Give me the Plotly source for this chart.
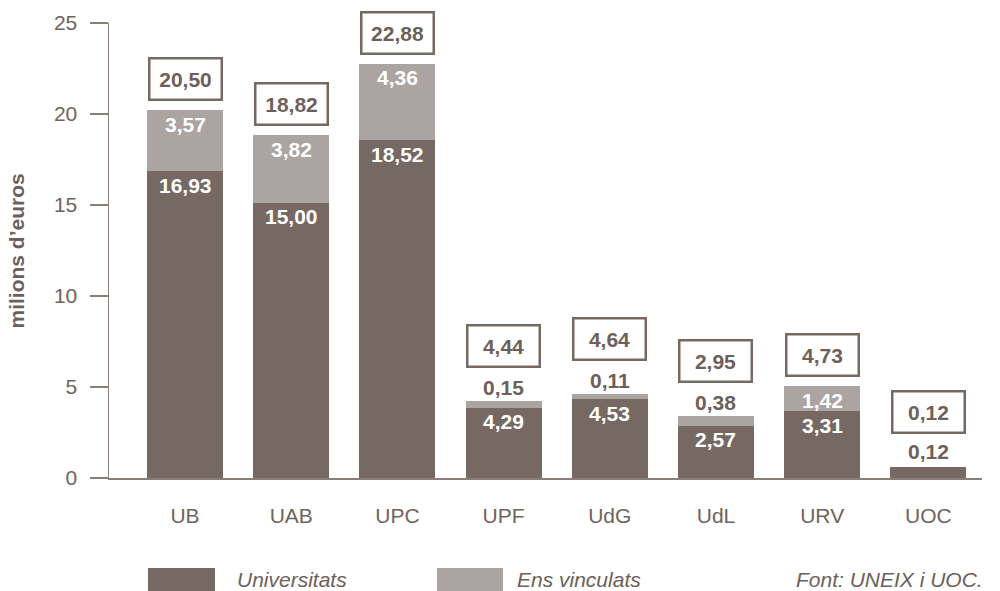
import plotly.graph_objects as go

# ---- data ----
categories = ["UB", "UAB", "UPC", "UPF", "UdG", "UdL", "URV", "UOC"]
# bar heights as drawn in the reference (milions d'euros)
universitats = [16.86, 15.12, 18.56, 3.86, 4.34, 2.87, 3.68, 0.62]
ens_vinculats = [3.35, 3.72, 4.21, 0.37, 0.27, 0.53, 1.37, 0.0]
# printed labels
univ_labels = ["16,93", "15,00", "18,52", "4,29", "4,53", "2,57", "3,31", "0,12"]
ens_labels = ["3,57", "3,82", "4,36", "0,15", "0,11", "0,38", "1,42", ""]
total_labels = ["20,50", "18,82", "22,88", "4,44", "4,64", "2,95", "4,73", "0,12"]
y_ticks = [0, 5, 10, 15, 20, 25]

DARK = "#766862"
LIGHT = "#aca4a1"
TXT = "#6d605a"
AXIS = "#8a7e79"
FONT = "Liberation Sans, Arial, Helvetica, sans-serif"

fig = go.Figure()
fig.add_trace(go.Bar(x=categories, y=universitats, name="Universitats",
                     marker=dict(color=DARK, line=dict(width=0)), hoverinfo="skip"))
fig.add_trace(go.Bar(x=categories, y=ens_vinculats, name="Ens vinculats",
                     marker=dict(color=LIGHT, line=dict(width=0)), hoverinfo="skip"))

PX_PER_UNIT = 455.0 / 25.0
annotations = []
for i, cat in enumerate(categories):
    u = universitats[i]
    e = ens_vinculats[i]
    tot = u + e
    outside = False
    # universitats label
    if u * PX_PER_UNIT >= 24:
        annotations.append(dict(x=cat, y=u, text=univ_labels[i], showarrow=False,
                                yanchor="middle", yshift=-14,
                                font=dict(size=21, color="white", family=FONT, weight="bold")))
    else:
        outside = True
        annotations.append(dict(x=cat, y=u, text=univ_labels[i], showarrow=False,
                                yanchor="middle", yshift=15,
                                font=dict(size=21, color=TXT, family=FONT, weight="bold")))
    # ens vinculats label
    if ens_labels[i]:
        if e * PX_PER_UNIT >= 20:
            annotations.append(dict(x=cat, y=tot, text=ens_labels[i], showarrow=False,
                                    yanchor="middle", yshift=-14,
                                    font=dict(size=21, color="white", family=FONT, weight="bold")))
        else:
            outside = True
            annotations.append(dict(x=cat, y=tot, text=ens_labels[i], showarrow=False,
                                    yanchor="middle", yshift=14,
                                    font=dict(size=21, color=TXT, family=FONT, weight="bold")))
    # total box
    annotations.append(dict(x=cat, y=tot, text=total_labels[i], showarrow=False,
                            yanchor="bottom", yshift=(33 if outside else 9),
                            width=68, height=37, borderpad=1, borderwidth=2.5,
                            bordercolor=DARK, bgcolor="white",
                            font=dict(size=21, color=TXT, family=FONT, weight="bold")))

# y-axis title
annotations.append(dict(xref="paper", yref="paper", x=-0.1054, y=0.5, text="milions d’euros",
                        textangle=-90, showarrow=False, xanchor="center", yanchor="middle",
                        font=dict(size=21, color=TXT, family=FONT, weight="bold")))
# legend texts
LEG_Y = -0.224
annotations.append(dict(xref="paper", yref="paper", x=0.1443, y=LEG_Y, text="Universitats",
                        showarrow=False, xanchor="left", yanchor="middle",
                        font=dict(size=21, color=TXT, family=FONT, style="italic")))
annotations.append(dict(xref="paper", yref="paper", x=0.465, y=LEG_Y, text="Ens vinculats",
                        showarrow=False, xanchor="left", yanchor="middle",
                        font=dict(size=21, color=TXT, family=FONT, style="italic")))
annotations.append(dict(xref="paper", yref="paper", x=1.004, y=LEG_Y, text="Font: UNEIX i UOC.",
                        showarrow=False, xanchor="right", yanchor="middle",
                        font=dict(size=21, color=TXT, family=FONT, style="italic")))

shapes = [
    dict(type="rect", xref="paper", yref="paper", x0=0.0447, x1=0.1214, y0=-0.2483, y1=-0.1978,
         fillcolor=DARK, line=dict(width=0)),
    dict(type="rect", xref="paper", yref="paper", x0=0.3757, x1=0.4513, y0=-0.2483, y1=-0.1978,
         fillcolor=LIGHT, line=dict(width=0)),
]

fig.update_layout(
    barmode="stack",
    bargap=0.284,
    width=1000, height=591,
    margin=dict(l=109, r=18, t=23, b=113, pad=0),
    paper_bgcolor="white", plot_bgcolor="white",
    showlegend=False,
    hovermode=False,
    annotations=annotations,
    shapes=shapes,
    font=dict(family=FONT, color=TXT),
    xaxis=dict(range=[-0.716, 7.505], showgrid=False, zeroline=False,
               showline=True, linecolor=AXIS, linewidth=1.5,
               ticks="", ticklabelstandoff=18,
               tickfont=dict(size=21, color="#6f635e", family=FONT)),
    yaxis=dict(range=[0, 25], tickvals=y_ticks, ticktext=[str(v) for v in y_ticks],
               showgrid=False, zeroline=False,
               showline=True, linecolor=AXIS, linewidth=1.5,
               ticks="outside", ticklen=18, tickwidth=1.5, tickcolor=AXIS,
               ticklabelstandoff=8,
               tickfont=dict(size=21, color="#6f635e", family=FONT)),
)

# remove the page's default body margin so the figure fills the window
fig.write_html("out.html", config={"displayModeBar": False, "staticPlot": True},
               post_script="document.body.style.margin='0px';")
